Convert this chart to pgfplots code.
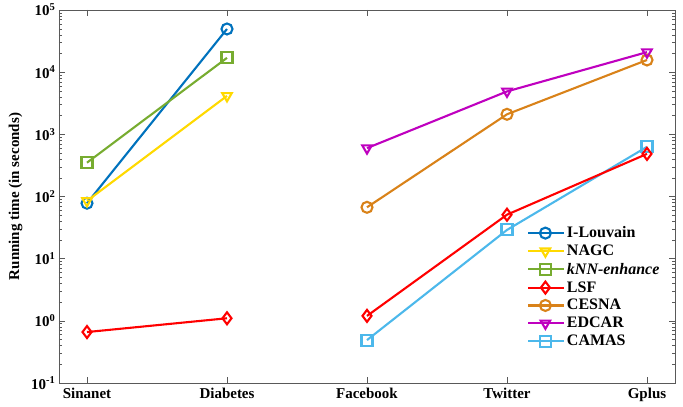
\documentclass[border=0pt]{standalone}
\usepackage{fontspec}
\setmainfont{Liberation Serif}
\usepackage{pgfplots}
\pgfplotsset{compat=1.18}
\definecolor{cLou}{rgb}{0,0.447,0.741}
\definecolor{cNAGC}{rgb}{1,0.85,0}
\definecolor{cKNN}{rgb}{0.466,0.674,0.188}
\definecolor{cLSF}{rgb}{1,0,0}
\definecolor{cCES}{rgb}{0.85,0.51,0.1}
\definecolor{cEDC}{rgb}{0.75,0,0.75}
\definecolor{cCAM}{rgb}{0.30,0.72,0.92}
\pgfplotsset{
  ser/.style={line width=2.1pt, mark size=5.5pt, mark options={solid, line width=2.1pt, fill=none}},
  serdown/.style={line width=2.1pt, mark size=5.5pt, mark=triangle, mark options={solid, line width=2.1pt, rotate=180, fill=none}},
  serdia/.style={line width=2.1pt, mark size=6pt, mark=diamond, mark options={solid, line width=2.1pt, fill=none}},
}
\begin{document}
\begin{tikzpicture}
\begin{axis}[
  at={(0,0)}, anchor=south west,
  scale only axis, width=616pt, height=373pt,
  ymode=log, ymin=0.1, ymax=1e5,
  xmin=-0.2, xmax=4.2,
  xtick={0,1,2,3,4},
  xticklabels={Sinanet,Diabetes,Facebook,Twitter,Gplus},
  ytick={0.1,1,10,100,1000,10000,100000},
  minor ytick={0.2,0.3,0.4,0.5,0.6,0.7,0.8,0.9,2,3,4,5,6,7,8,9,20,30,40,50,60,70,80,90,200,300,400,500,600,700,800,900,2000,3000,4000,5000,6000,7000,8000,9000,20000,30000,40000,50000,60000,70000,80000,90000},
  yticklabels={10\textsuperscript{-1},10\textsuperscript{0},10\textsuperscript{1},10\textsuperscript{2},10\textsuperscript{3},10\textsuperscript{4},10\textsuperscript{5}},
  ticklabel style={font=\fontsize{15}{17}\selectfont\bfseries},
  xticklabel style={yshift=-2pt},
  ylabel={Running time (in seconds)},
  ylabel style={font=\fontsize{15}{17}\selectfont\bfseries, yshift=2pt},
  axis line style={gray!70!black},
  every tick/.style={gray!70!black},
  major tick length=6pt, minor tick length=3pt,
  legend style={draw=none, fill=none, at={(0.755,0.43)}, anchor=north west,
    font=\fontsize{16}{19}\selectfont\bfseries, row sep=1.8pt,
    /tikz/every even column/.append style={column sep=2pt}},
  legend cell align=left,
  legend image code/.code={
    \draw[mark repeat=2,mark phase=2] plot coordinates {(0cm,0cm) (0.6cm,0cm) (1.25cm,0cm)};},
]
\addplot[cLou, ser, mark=o] coordinates {(0,78) (1,49500)};
\addlegendentry{I-Louvain}
\addplot[cNAGC, serdown] coordinates {(0,85) (1,4150)};
\addlegendentry{NAGC}
\addplot[cKNN, ser, mark=square] coordinates {(0,350) (1,17000)};
\addlegendentry{\textit{kNN-enhance}}
\addplot[cLSF, serdia] coordinates {(0,0.66) (1,1.1)};
\addlegendentry{LSF}
\addplot[cCES, ser, mark=o] coordinates {(2,67) (3,2100) (4,15700)};
\addlegendentry{CESNA}
\addplot[cEDC, serdown] coordinates {(2,600) (3,4900) (4,21000)};
\addlegendentry{EDCAR}
\addplot[cCAM, ser, mark=square] coordinates {(2,0.49) (3,29) (4,630)};
\addlegendentry{CAMAS}
\addplot[cLSF, serdia, forget plot] coordinates {(2,1.2) (3,51) (4,485)};
\end{axis}
\pgfresetboundingbox
\path (-59pt,-24pt) rectangle (624pt,383pt);
\end{tikzpicture}
\end{document}
